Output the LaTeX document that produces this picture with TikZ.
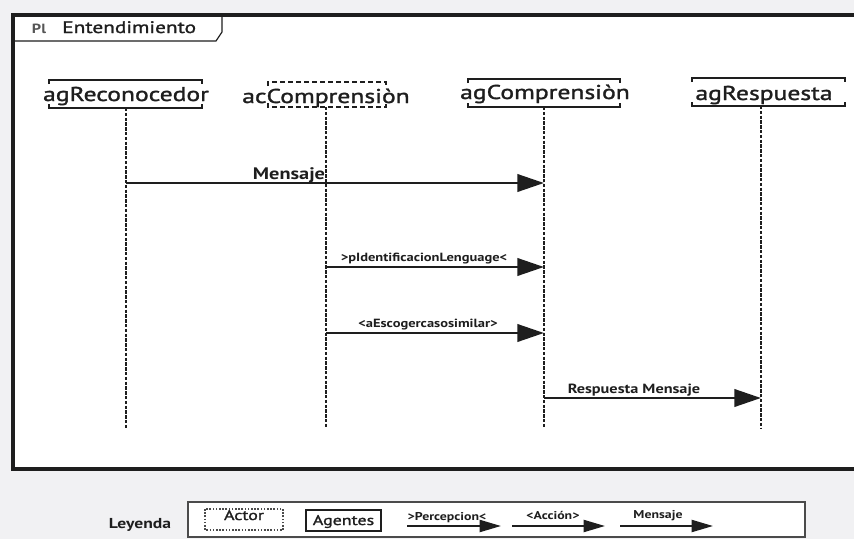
\documentclass[tikz,border=0pt]{standalone}
\usepackage{fontspec}
\setmainfont{PT Sans}[FakeStretch=1.3]
\newfontfamily\headfont{PT Sans}[FakeStretch=1.28,FakeBold=1.5]
\newfontfamily\boldish{PT Sans Bold}[FakeStretch=1.22]
\usetikzlibrary{arrows.meta}
\definecolor{ink}{HTML}{1E1E1E}
\definecolor{paper}{HTML}{F1F1F3}
\tikzset{
  headtxt/.style={font=\headfont\fontsize{15}{17}\selectfont, text=ink, inner sep=0pt, anchor=base},
  lifeline/.style={draw=ink, line width=1.1pt, dash pattern=on 2.6pt off 1pt},
  msg/.style={draw=ink, line width=2.2pt, -{Triangle[length=20pt,width=13pt]}},
  lmsg/.style={draw=ink, line width=1.6pt, -{Triangle[length=16pt,width=9pt]}},
  msglbl/.style={font=\boldish\fontsize{12.5}{14}\selectfont, text=ink, inner sep=0pt, anchor=base},
  smalllbl/.style={font=\boldish\fontsize{8.9}{10}\selectfont, text=ink, inner sep=0pt, anchor=base},
  tinylbl/.style={font=\boldish\fontsize{8.5}{9}\selectfont, text=ink, inner sep=0pt, anchor=base},
  legtxt/.style={font=\headfont\fontsize{10.5}{12}\selectfont, text=ink, inner sep=0pt, anchor=base},
  bracket/.style={draw=ink, line width=1.6pt},
  dbracket/.style={draw=ink, line width=1.6pt, dash pattern=on 4pt off 2pt},
}
\begin{document}
\begin{tikzpicture}[x=0.75pt,y=-0.75pt]
\useasboundingbox (0,0) rectangle (854,539);
\fill[paper] (0,0) rectangle (854,539);
% frame of the interaction
\fill[white] (13,15) rectangle (854,469);
\draw[ink, line width=2.3pt] (860,15) -- (13,15) -- (13,469) -- (860,469);
% name tab
\draw[ink, line width=0.9pt] (13,41) -- (216,41) -- (222,32) -- (222,15);
\node[font=\boldish\fontsize{10}{11}\selectfont, text=ink!75, anchor=base, inner sep=0pt] (pl) at (39,33) {Pl};
\node[font=\headfont\fontsize{12.5}{14}\selectfont, text=ink, anchor=base west, inner sep=0pt] (tabname) at (62,33) {Entendimiento};

% lifeline heads
\node[headtxt] (rec) at (126,101) {agReconocedor};
\node[headtxt] (acc) at (326,103) {acComprensiòn};
\node[headtxt] (cmp) at (545,99) {agComprensiòn};
\node[headtxt] (res) at (764,100) {agRespuesta};

% brackets around the heads
\draw[bracket] (49,84) -- (49,80) -- (202,80) -- (202,84);
\draw[bracket] (49,104) -- (49,108) -- (202,108) -- (202,104);
\draw[dbracket] (268,86) -- (268,82) -- (386,82) -- (386,86);
\draw[dbracket] (268,103) -- (268,107) -- (386,107) -- (386,103);
\draw[bracket] (468,83) -- (468,79) -- (620,79) -- (620,83);
\draw[bracket] (468,103) -- (468,107) -- (620,107) -- (620,103);
\draw[bracket] (692,82) -- (692,78) -- (845,78) -- (845,82);
\draw[bracket] (692,102) -- (692,106) -- (845,106) -- (845,102);

% lifelines
\coordinate (recT) at (126,108); \coordinate (recB) at (126,428);
\coordinate (accT) at (326,107); \coordinate (accB) at (326,428);
\coordinate (cmpT) at (544,107); \coordinate (cmpB) at (544,428);
\coordinate (resT) at (761,106); \coordinate (resB) at (761,428);
\draw[lifeline] (recT) -- (recB);
\draw[lifeline] (accT) -- (accB);
\draw[lifeline] (cmpT) -- (cmpB);
\draw[lifeline] (resT) -- (resB);

% messages
\coordinate (m1a) at (126,183); \coordinate (m1b) at (544,183);
\coordinate (m2a) at (326,267); \coordinate (m2b) at (544,267);
\coordinate (m3a) at (326,333); \coordinate (m3b) at (544,333);
\coordinate (m4a) at (544,398); \coordinate (m4b) at (761,398);
\draw[msg] (m1a) -- (m1b);
\draw[msg] (m2a) -- (m2b);
\draw[msg] (m3a) -- (m3b);
\draw[msg] (m4a) -- (m4b);
\node[msglbl] (l1) at (289,179) {Mensaje};
\node[smalllbl] (l2) at (424,261) {>pIdentificacionLenguage<};
\node[smalllbl] (l3) at (428,327) {<aEscogercasosimilar>};
\node[msglbl, font=\boldish\fontsize{10}{11}\selectfont] (l4) at (634,393) {Respuesta Mensaje};

% legend
\node[font=\boldish\fontsize{10.8}{12}\selectfont, text=ink, anchor=base, inner sep=0pt] (ley) at (140,528) {Leyenda};
\draw[ink!80, line width=0.9pt, fill=white] (188,502) rectangle (805,537);
\draw[ink!80, line width=0.9pt, dash pattern=on 1.2pt off 1.2pt] (205,509) rectangle (283,530);
\node[legtxt] (actor) at (244,520) {Actor};
\draw[ink, line width=0.9pt] (306,510) rectangle (381,531);
\node[legtxt] (agentes) at (343.5,525) {Agentes};
\coordinate (p1a) at (407,526); \coordinate (p1b) at (501,526);
\coordinate (p2a) at (512,526); \coordinate (p2b) at (605,526);
\coordinate (p3a) at (620,526); \coordinate (p3b) at (713,526);
\draw[lmsg] (p1a) -- (p1b);
\draw[lmsg] (p2a) -- (p2b);
\draw[lmsg] (p3a) -- (p3b);
\node[tinylbl] (lp1) at (447,520) {>Percepcion<};
\node[tinylbl] (lp2) at (553,519) {<Acción>};
\node[tinylbl] (lp3) at (658,518) {Mensaje};
\end{tikzpicture}
\end{document}
